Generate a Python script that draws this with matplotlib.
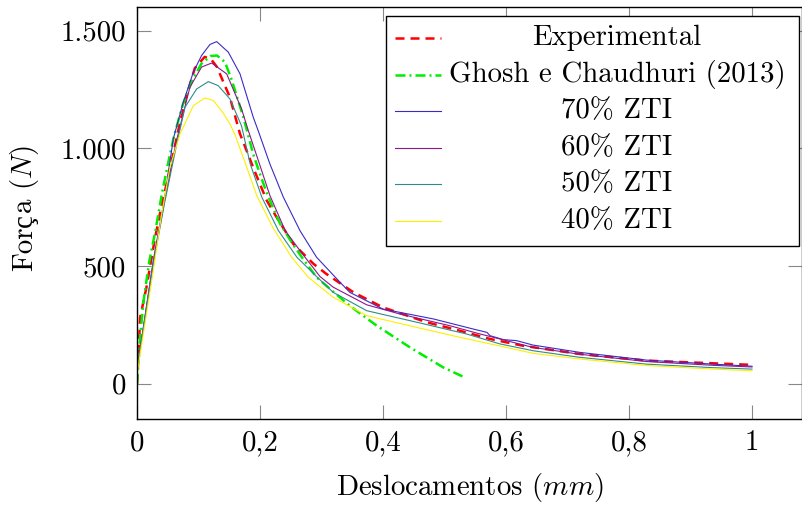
import matplotlib
matplotlib.use("Agg")
import matplotlib.pyplot as plt
from matplotlib.lines import Line2D
from matplotlib.patches import Rectangle
from matplotlib.transforms import IdentityTransform

# ---- data: displacement (mm) vs force (N) ----
exp_x = [0, 0.003, 0.005, 0.016, 0.021, 0.029, 0.040, 0.050, 0.060, 0.070, 0.078, 0.094,
         0.110, 0.120, 0.130, 0.151, 0.1675, 0.192, 0.211, 0.227, 0.254, 0.287, 0.308,
         0.352, 0.400, 0.471, 0.525, 0.574, 0.628, 0.720, 0.829, 1.000]
exp_y = [0, 150, 280, 417, 494, 615, 757, 870, 990, 1110, 1200, 1340,
         1388, 1380, 1345, 1217, 1061, 898, 778, 707, 594, 509, 466,
         388, 324, 261, 225, 190, 161, 126, 98, 80]

ghosh_x = [0, 0.005, 0.010, 0.020, 0.030, 0.040, 0.050, 0.060, 0.075, 0.090, 0.105, 0.120,
           0.130, 0.143, 0.154, 0.173, 0.189, 0.200, 0.211, 0.224, 0.2325, 0.254, 0.270,
           0.292, 0.314, 0.346, 0.390, 0.444, 0.498, 0.530]
ghosh_y = [0, 190, 340, 520, 650, 800, 930, 1050, 1190, 1290, 1360, 1392,
           1394, 1366, 1290, 1132, 975, 890, 810, 730, 680, 590, 530,
           452, 402, 331, 246, 154, 69, 30]

zti70_x = [0, 0.003, 0.0265, 0.045, 0.059, 0.0753, 0.0916, 0.105, 0.1187, 0.1296, 0.1485,
           0.1675, 0.189, 0.197, 0.216, 0.238, 0.265, 0.292, 0.325, 0.346, 0.400, 0.482,
           0.547, 0.569, 0.574, 0.596, 0.617, 0.644, 0.720, 0.829, 0.937, 1.000]
zti70_y = [40, 110, 523, 790, 1040, 1196, 1323, 1394, 1441, 1453, 1408,
           1316, 1132, 1075, 934, 792, 650, 537, 445, 388, 317, 275,
           232, 218, 204, 187, 183, 164, 133, 100, 83, 74]

zti60_x = [0, 0.003, 0.0265, 0.045, 0.064, 0.086, 0.105, 0.1214, 0.1458, 0.170, 0.181,
           0.197, 0.216, 0.241, 0.265, 0.2976, 0.319, 0.3735, 0.4276, 0.509, 0.558,
           0.590, 0.644, 0.720, 0.829, 0.937, 1.000]
zti60_y = [40, 110, 515, 780, 1030, 1259, 1345, 1362, 1316, 1167, 1075,
           950, 800, 650, 565, 455, 410, 335, 296, 246, 211,
           190, 154, 125, 94, 78, 71]

zti50_x = [0, 0.003, 0.0265, 0.045, 0.064, 0.078, 0.097, 0.116, 0.132, 0.151, 0.170,
           0.184, 0.203, 0.230, 0.260, 0.292, 0.319, 0.3735, 0.455, 0.536, 0.590,
           0.644, 0.720, 0.829, 0.937, 1.000]
zti50_y = [40, 110, 510, 770, 1010, 1174, 1252, 1283, 1266, 1210, 1095,
           934, 792, 650, 537, 455, 388, 310, 261, 211, 169,
           140, 112, 83, 68, 62]

zti40_x = [0, 0.003, 0.0265, 0.040, 0.0537, 0.070, 0.0916, 0.1106, 0.124, 0.140, 0.151,
           0.159, 0.1756, 0.1946, 0.2216, 0.2515, 0.2785, 0.319, 0.3735, 0.455, 0.520,
           0.590, 0.644, 0.720, 0.829, 0.937, 1.000]
zti40_y = [30, 90, 480, 720, 920, 1061, 1181, 1214, 1203, 1150, 1104,
           1060, 940, 800, 660, 537, 452, 367, 289, 239, 200,
           160, 129, 105, 77, 62, 55]

x_ticks = [0, 0.2, 0.4, 0.6, 0.8, 1.0]
x_tick_labels = ["0", "0,2", "0,4", "0,6", "0,8", "1"]
y_ticks = [0, 500, 1000, 1500]
y_tick_labels = ["0", "500", "1.000", "1.500"]

labels = ["Experimental", "Ghosh e Chaudhuri (2013)",
          "70% ZTI", "60% ZTI", "50% ZTI", "40% ZTI"]

# ---- style ----
plt.rcParams["font.family"] = ["cmr10", "DejaVu Serif"]
plt.rcParams["mathtext.fontset"] = "cm"
plt.rcParams["axes.unicode_minus"] = False
plt.rcParams["axes.formatter.use_mathtext"] = True
FS = 20.8

W, H = 803, 505
fig = plt.figure(figsize=(W / 100, H / 100), dpi=100)
ax = fig.add_axes([137 / W, 1 - 419 / H, (802 - 137) / W, (419 - 7) / H])

styles = [
    dict(color="#ff0000", lw=1.8, ls=(0, (3.6, 2.4))),
    dict(color="#00ee00", lw=1.8, ls=(0, (4.0, 1.6, 0.8, 1.6))),
    dict(color="#3a2bc8", lw=0.8, ls="-"),
    dict(color="#8b198b", lw=0.8, ls="-"),
    dict(color="#2e8b8b", lw=0.8, ls="-"),
    dict(color="#ffee00", lw=0.8, ls="-"),
]
series = [(exp_x, exp_y), (ghosh_x, ghosh_y), (zti70_x, zti70_y),
          (zti60_x, zti60_y), (zti50_x, zti50_y), (zti40_x, zti40_y)]

for (xs, ys), st in zip(series, styles):
    ax.plot(xs, ys, color=st["color"], lw=st["lw"], linestyle=st["ls"])

ax.set_xlim(0, (802 - 137) / 615)
ax.set_ylim(-150, 1600)
ax.set_xticks(x_ticks)
ax.set_xticklabels(x_tick_labels)
ax.set_yticks(y_ticks)
ax.set_yticklabels(y_tick_labels)
ax.tick_params(direction="in", length=10, width=0.8, color="#888888",
               top=True, right=True, labelsize=FS, pad=8)
for sp in ax.spines.values():
    sp.set_linewidth(1.0)

ax.set_xlabel("Deslocamentos ($mm$)", fontsize=FS)
ax.xaxis.label.set_va("center")
ax.xaxis.set_label_coords(0.5, (419 - 488) / 412)

# ---- y label: the cedilla glyph comes from a font that has it ----
renderer = fig.canvas.get_renderer()
CM = ["cmr10"]
CED = ["Liberation Serif"]


def ink_width(s, fam):
    t = fig.text(0, 0, s, fontsize=FS, family=fam)
    w = t.get_window_extent(renderer).width
    t.remove()
    return w


off_c = ink_width("Forc", CM) - ink_width("c", CM)
w_c = ink_width("c", CM)
w_ced = ink_width("ç", CED)
off_a = ink_width("Forca", CM) - ink_width("a", CM)
total = off_a + ink_width("a ($N$)", CM)

base_x = 32
start_y = (H - 208) - total / 2
pieces = [("For", CM, 0.0), ("ç", CED, off_c + (w_c - w_ced) / 2), ("a ($N$)", CM, off_a)]
for s, fam, off in pieces:
    fig.text(base_x, start_y + off, s, fontsize=FS, family=fam, rotation=90,
             rotation_mode="anchor", ha="left", va="baseline",
             transform=IdentityTransform())

# ---- legend box drawn in pixel space ----
def fx(px):
    return px / W


def fy(py):
    return 1 - py / H


fig.patches.append(Rectangle((fx(386), fy(246)), fx(799) - fx(386), fy(15.7) - fy(246),
                             transform=fig.transFigure, facecolor="white",
                             edgecolor="black", lw=1.0, zorder=5))
row_y = [38.3, 74.5, 111, 147.7, 184.3, 221]
for ry, st, lab in zip(row_y, styles, labels):
    fig.lines.append(Line2D([fx(395), fx(441)], [fy(ry), fy(ry)],
                            transform=fig.transFigure, color=st["color"],
                            lw=st["lw"], linestyle=st["ls"], zorder=6))
    fig.text(fx(617), fy(ry), lab, ha="center", va="center", fontsize=FS, zorder=6)

fig.savefig("out.png", dpi=100)
